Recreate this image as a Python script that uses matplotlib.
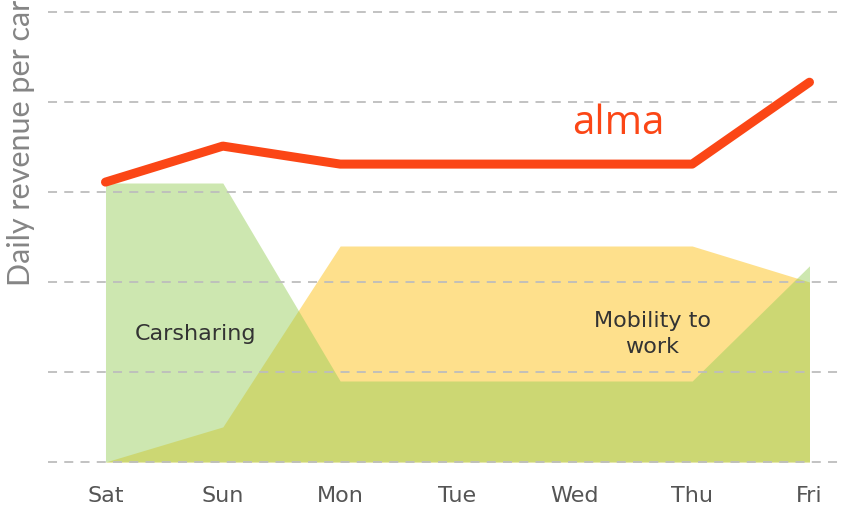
import matplotlib.pyplot as plt

days = ["Sat", "Sun", "Mon", "Tue", "Wed", "Thu", "Fri"]
alma = [3.11, 3.51, 3.31, 3.31, 3.31, 3.31, 4.22]
carsharing = [3.10, 3.10, 0.90, 0.90, 0.90, 0.90, 2.18]
mobility = [0.0, 0.39, 2.40, 2.40, 2.40, 2.40, 2.00]
grid_levels = [0, 1, 2, 3, 4, 5]

fig = plt.figure(figsize=(8.52, 5.07), dpi=100)
ax = fig.add_axes([48 / 852, 45 / 507, 792 / 852, 450 / 507])

x = list(range(len(days)))

# gelbe Fläche zuerst, grüne halbtransparent darüber
ax.fill_between(x, 0, mobility, color="#fee08c", linewidth=0, zorder=1)
ax.fill_between(x, 0, carsharing, color="#95ce57", alpha=0.47, linewidth=0, zorder=2)

for g in grid_levels:
    ax.axhline(g, color="#bdbdbd", linestyle=(0, (5, 4)), linewidth=1.3,
               zorder=3, clip_on=False)

ax.plot(x, alma, color="#fb4616", linewidth=6.5, solid_capstyle="round",
        solid_joinstyle="round", zorder=4)

ax.text(0.77, 1.42, "Carsharing", fontsize=16, color="#333333",
        ha="center", va="center", zorder=5)
ax.text(4.66, 1.42, "Mobility to\nwork", fontsize=16, color="#333333",
        ha="center", va="center", linespacing=1.35, zorder=5)
ax.text(4.37, 3.76, "alma", fontsize=29, color="#fb4616", family="Open Sans",
        ha="center", va="center", zorder=5)

ax.set_xlim(-0.49, 6.26)
ax.set_ylim(0, 5)
ax.set_xticks(x)
ax.set_xticklabels(days, fontsize=16, color="#555555")
ax.tick_params(axis="x", length=0, pad=17)
ax.set_yticks([])
for s in ax.spines.values():
    s.set_visible(False)

fig.text(21 / 852, (507 - 286) / 507, "Daily revenue per car", rotation=90,
         fontsize=22, color="#858585", ha="center", va="bottom",
         family="Lato")

fig.savefig("out.png", dpi=100)
